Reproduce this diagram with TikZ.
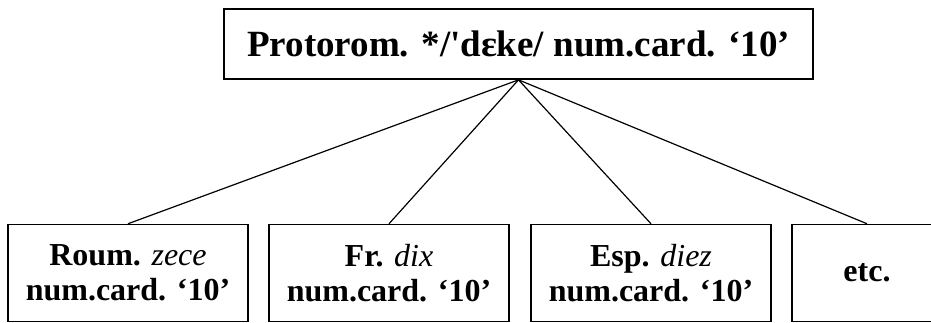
\documentclass[tikz,border=0pt]{standalone}
\usepackage{fontspec}
\setmainfont{Liberation Serif}
\begin{document}
\begin{tikzpicture}[x=1pt,y=-1pt,
  topbox/.style={draw, line width=1.7pt, inner sep=0pt, minimum width=589pt, minimum height=70pt,
    font=\bfseries\fontsize{37}{41}\selectfont},
  leafbox/.style={draw, line width=1.5pt, inner sep=0pt, minimum width=240pt, minimum height=97pt,
    align=center, font=\bfseries\fontsize{32}{35}\selectfont},
  conn/.style={line width=1.2pt}]
\useasboundingbox (0,0) rectangle (931,322);
\clip (0,0) rectangle (931,322);
\node[topbox] (top) at (518.5,44) {Protorom. */\textquotesingle dɛke/ num.card. ‘10’};
\node[leafbox] (b1) at (128,273) {Roum. {\mdseries\itshape zece}\\num.card. ‘10’};
\node[leafbox] (b2) at (389,273) {Fr. {\mdseries\itshape dix}\\num.card. ‘10’};
\node[leafbox] (b3) at (651,273) {Esp. {\mdseries\itshape diez}\\num.card. ‘10’};
\node[leafbox, minimum width=150pt] (b4) at (867,273) {etc.};
\draw[conn] (top.south) -- (b1.north);
\draw[conn] (top.south) -- (b2.north);
\draw[conn] (top.south) -- (b3.north);
\draw[conn] (top.south) -- (b4.north);
\end{tikzpicture}
\end{document}
